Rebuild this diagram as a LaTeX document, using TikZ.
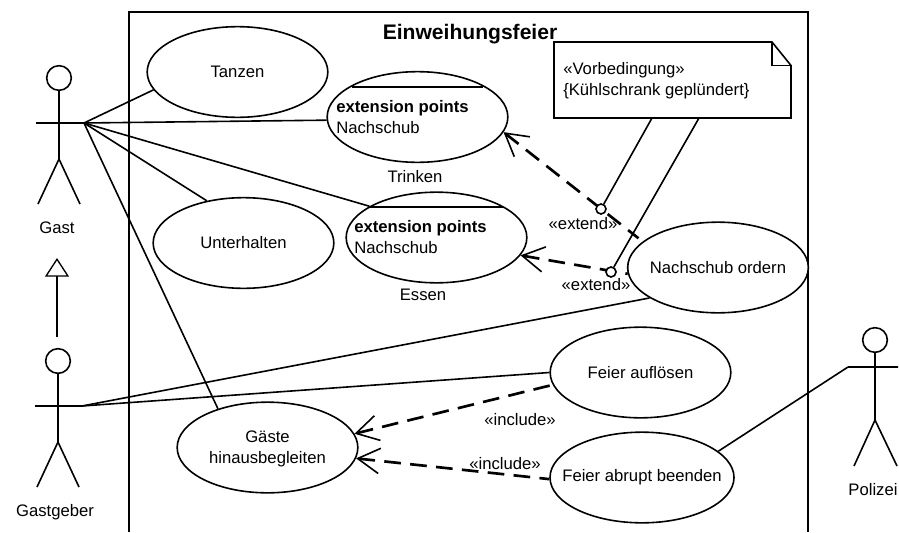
\documentclass[tikz,border=0pt]{standalone}
\usepackage{fontspec}
\setmainfont{Liberation Sans}
\usetikzlibrary{arrows.meta,shapes.geometric}
\tikzset{
  ln/.style={line width=1.2pt,draw=black},
  usecase/.style={ellipse,ln,fill=white,inner xsep=-40pt,inner ysep=-12pt,minimum width=135.5pt,minimum height=68pt,align=center,font=\fontsize{12.5}{15.5}\selectfont},
  txt/.style={inner sep=0pt,yshift=-0.75pt,font=\fontsize{12.5}{15.5}\selectfont,align=left},
  head/.style={circle,ln,inner sep=0pt,minimum size=18.5pt},
  dot/.style={circle,ln,fill=white,inner sep=0pt,minimum size=7.5pt},
  dep/.style={line width=2pt,dash pattern=on 12.5pt off 7pt,{Straight Barb[length=16.5pt,width=19pt,line width=1.2pt]}-},
  gen/.style={ln,-{Triangle[open,length=14pt,width=18pt,line width=1pt]}},
}
\begin{document}
\begin{tikzpicture}[x=0.75pt,y=-0.75pt]
\useasboundingbox (0,0) rectangle (899,532);
% system frame
\coordinate (fa) at (129,532); \coordinate (fb) at (129,12);
\coordinate (fc) at (808,12);  \coordinate (fd) at (808,532);
\draw[ln] (fa) -- (fb) -- (fc) -- (fd);
\node[txt,font=\fontsize{15.8}{18}\selectfont\bfseries] (title) at (470,33) {Einweihungsfeier};
% actors
\node[head] (gasth) at (59,78) {};
\coordinate (gastb) at (59,159); \coordinate (gastl) at (36,123); \coordinate (gastr) at (84,123);
\coordinate (gastf1) at (38,204); \coordinate (gastf2) at (80,204); \coordinate (gastn) at (59,123);
\draw[ln] (gasth) -- (gastb) (gastl) -- (gastr) (gastf1) -- (gastb) -- (gastf2);
\node[txt] (gastt) at (57,227) {Gast};
\node[head] (geberh) at (58,361) {};
\coordinate (geberb) at (58,442); \coordinate (geberl) at (35,406); \coordinate (geberr) at (82,406);
\coordinate (geberf1) at (37,487); \coordinate (geberf2) at (79,487);
\draw[ln] (geberh) -- (geberb) (geberl) -- (geberr) (geberf1) -- (geberb) -- (geberf2);
\node[txt] (gebert) at (55,511) {Gastgeber};
\node[head] (polh) at (875,340) {};
\coordinate (polb) at (875,420); \coordinate (poll) at (848,367); \coordinate (polr) at (898,367);
\coordinate (polf1) at (854,466); \coordinate (polf2) at (897,466);
\draw[ln] (polh) -- (polb) (poll) -- (polr) (polf1) -- (polb) -- (polf2);
\node[txt] (polt) at (873,489) {Polizei};
\coordinate (gena) at (57,337); \coordinate (genb) at (57,258);
\draw[gen] (gena) -- (genb);
% use cases
\node[usecase] (tanzen) at (237.5,72) {Tanzen};
\node[usecase] (trinken) at (417.5,117) {};
\node[usecase] (essen) at (436.5,237.5) {};
\node[usecase] (unter) at (243.5,243) {Unterhalten};
\node[usecase] (nach) at (718,267.5) {Nachschub ordern};
\node[usecase] (gaeste) at (267.5,447.5) {};
\node[txt,align=center] (gaestet) at (267.5,448) {Gäste\\[0.5pt]hinausbegleiten};
\node[usecase] (aufl) at (640.5,372.5) {Feier auflösen};
\node[usecase,minimum width=138pt] (abrupt) at (642,477.5) {Feier abrupt beenden};
% compartments
\coordinate (tl1) at (352,87); \coordinate (tl2) at (483,87);
\coordinate (el1) at (370,207); \coordinate (el2) at (503,207);
\draw[ln] (tl1) -- (tl2) (el1) -- (el2);
\node[txt,anchor=west,font=\fontsize{12.5}{15.5}\selectfont\bfseries] (t1) at (336,107) {extension points};
\node[txt,anchor=west] (t2) at (336,127) {Nachschub};
\node[txt] (t3) at (415,176) {Trinken};
\node[txt,anchor=west,font=\fontsize{12.5}{15.5}\selectfont\bfseries] (e1) at (354,227) {extension points};
\node[txt,anchor=west] (e2) at (354,247) {Nachschub};
\node[txt] (e3) at (423,294) {Essen};
% associations
\draw[ln] (gastr) -- (tanzen.192);
\draw[ln] (gastr) -- (trinken.182);
\draw[ln] (gastr) -- (essen.155.4);
\draw[ln] (gastr) -- (unter.131);
\draw[ln] (gastr) -- (gaeste.142.7);
\draw[ln] (geberr) -- (nach.204.9);
\draw[ln] (geberr) -- (aufl.180);
\draw[ln] (poll) -- (abrupt.19.9);
% note
\coordinate (n1) at (554,42); \coordinate (n2) at (772,42); \coordinate (n3) at (791,65.5);
\coordinate (n4) at (791,118); \coordinate (n5) at (554,118); \coordinate (n6) at (772,65.5);
\draw[ln,fill=white] (n1) -- (n2) -- (n3) -- (n4) -- (n5) -- cycle;
\draw[ln] (n2) -- (n6) -- (n3);
\node[txt,anchor=west] (n7) at (563,69) {«Vorbedingung»};
\node[txt,anchor=west] (n8) at (563,90) {\{Kühlschrank geplündert\}};
% extend / include
\draw[dep,shorten >=4pt] (trinken.-10.6) -- (nach.161.2);
\draw[dep] (essen.-12.6) -- (nach.184.8);
\draw[dep] (gaeste.9.5) -- (aufl.188);
\draw[dep] (gaeste.-7.3) -- (abrupt.181.6);
\coordinate (na) at (652,118); \coordinate (nb) at (699,118);
\node[dot] (d1) at (601,209) {};
\node[dot] (d2) at (611,272) {};
\draw[ln] (na) -- (d1);
\draw[ln] (nb) -- (d2);
\node[txt] (x1) at (583,223) {«extend»};
\node[txt] (x2) at (596,284) {«extend»};
\node[txt] (i1) at (520,419) {«include»};
\node[txt] (i2) at (505,463) {«include»};
\end{tikzpicture}
\end{document}
